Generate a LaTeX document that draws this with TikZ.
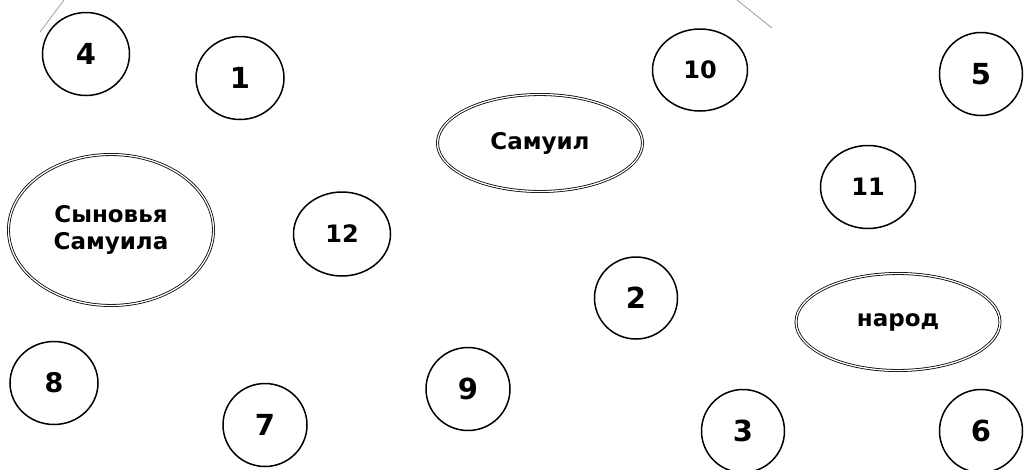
\documentclass[tikz,border=0pt]{standalone}
\usepackage{fontspec}
\setmainfont{DejaVu Sans}
\usetikzlibrary{shapes.geometric}
\tikzset{
  num/.style={draw=black, line width=1.5pt, ellipse, inner sep=0pt, font=\bfseries\fontsize{29}{29}\selectfont},
  numsm/.style={num, font=\bfseries\fontsize{24}{24}\selectfont},
  nummd/.style={num, font=\bfseries\fontsize{27}{27}\selectfont},
  dbl/.style={draw=black, ellipse, line width=0.8pt, double=white, double distance=1.3pt, inner sep=0pt, align=center, font=\bfseries\fontsize{23}{27}\selectfont},
  faint/.style={draw=black!35, line width=0.9pt}
}
\begin{document}
\begin{tikzpicture}[x=1pt,y=-1pt]
\useasboundingbox (0,0) rectangle (1026,469);
\fill[white] (0,0) rectangle (1026,469);
% faint lines at the top
\coordinate (tla) at (40,32); \coordinate (tlb) at (64,0);
\coordinate (tra) at (737,0); \coordinate (trb) at (772,28);
\draw[faint] (tla) -- (tlb);
\draw[faint] (tra) -- (trb);
% double ellipses
\node[dbl, minimum width=205pt, minimum height=97pt] (sam) at (540,143) {Самуил};
\node[dbl, minimum width=205pt, minimum height=151pt] (sons) at (111,230) {Сыновья\\Самуила};
\node[dbl, minimum width=204pt, minimum height=97pt] (nar) at (898,322) {народ};
% numbered circles
\node[num, minimum width=87pt, minimum height=83pt] (n4) at (86,54) {4};
\node[num, minimum width=88pt, minimum height=83pt] (n1) at (240,78) {1};
\node[numsm, minimum width=95pt, minimum height=82pt] (n10) at (700,70) {10};
\node[num, minimum width=83pt, minimum height=83pt] (n5) at (981,74) {5};
\node[numsm, minimum width=95pt, minimum height=83pt] (n11) at (868,187) {11};
\node[numsm, minimum width=97pt, minimum height=84pt] (n12) at (342,234) {12};
\node[num, minimum width=83pt, minimum height=82pt] (n2) at (636,298) {2};
\node[nummd, minimum width=88pt, minimum height=83pt] (n8) at (54,383) {8};
\node[num, minimum width=84pt, minimum height=83pt] (n7) at (265,425) {7};
\node[num, minimum width=84pt, minimum height=83pt] (n9) at (468,389) {9};
\node[num, minimum width=83pt, minimum height=83pt] (n3) at (743,431) {3};
\node[num, minimum width=83pt, minimum height=83pt] (n6) at (981,431) {6};
\end{tikzpicture}
\end{document}
